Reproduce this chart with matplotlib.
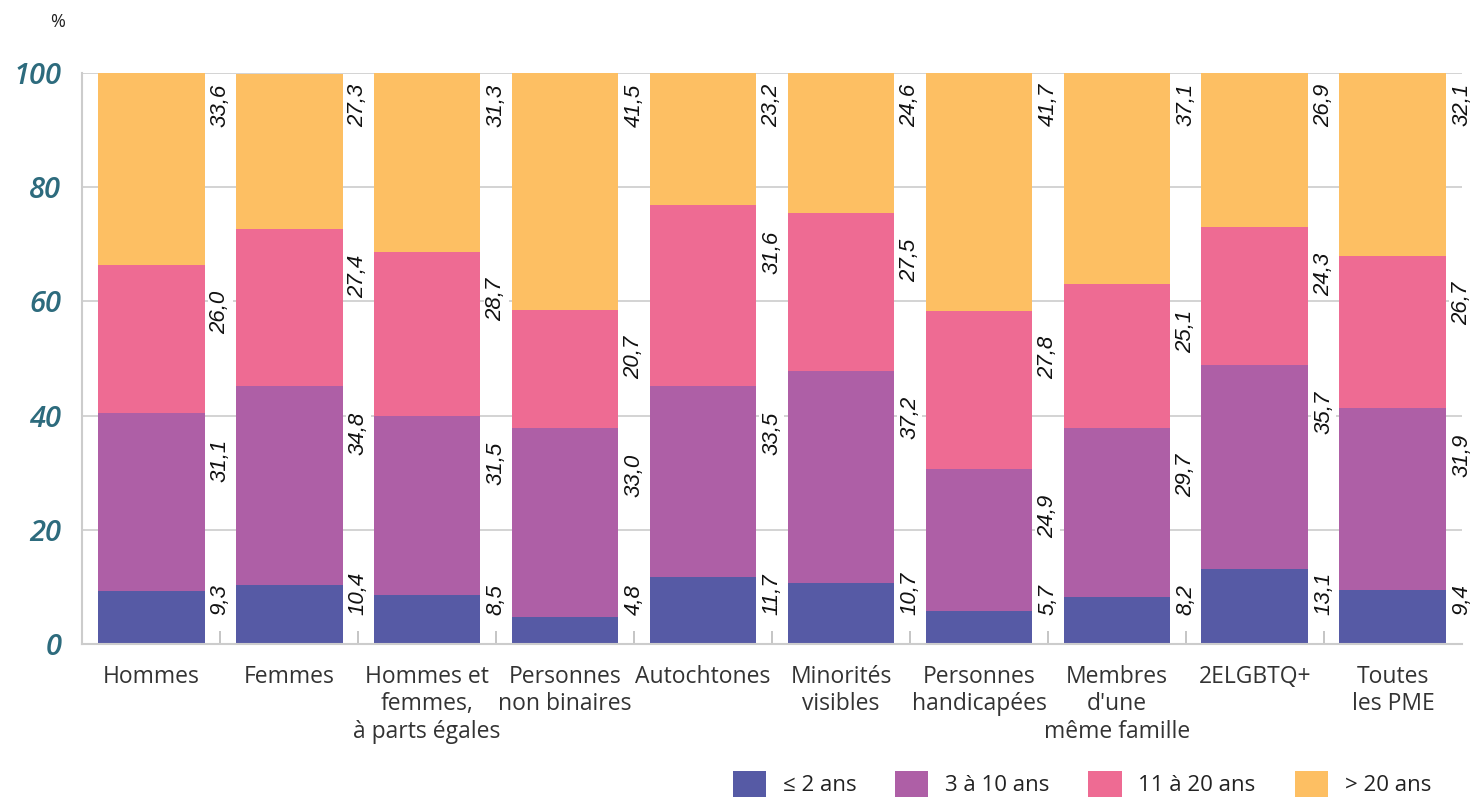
import matplotlib
matplotlib.use("Agg")
import matplotlib.pyplot as plt
import numpy as np

### DATA

categories = ["Hommes", "Femmes", "Hommes et\nfemmes,\nà parts égales",
              "Personnes\nnon binaires", "Autochtones", "Minorités\nvisibles",
              "Personnes\nhandicapées", "Membres\nd'une\nmême famille",
              "2ELGBTQ+", "Toutes\nles PME"]

series_names = ["≤ 2 ans", "3 à 10 ans", "11 à 20 ans", "> 20 ans"]

age_0_2 = [9.3, 10.4, 8.5, 4.8, 11.7, 10.7, 5.7, 8.2, 13.1, 9.4]
age_3_10 = [31.1, 34.8, 31.5, 33.0, 33.5, 37.2, 24.9, 29.7, 35.7, 31.9]
age_11_20 = [26.0, 27.4, 28.7, 20.7, 31.6, 27.5, 27.8, 25.1, 24.3, 26.7]
age_20_plus = [33.6, 27.3, 31.3, 41.5, 23.2, 24.6, 41.7, 37.1, 26.9, 32.1]

y_ticks = [0, 20, 40, 60, 80, 100]

colors = ["#565aa5", "#ae5fa6", "#ee6b93", "#fdbf63"]

### FIGURE

fig = plt.figure(figsize=(14.73, 7.99), dpi=100)
ax = fig.add_axes([0.0557, 0.194, 0.9368, 0.7146])

x = np.arange(len(categories))
series = [age_0_2, age_3_10, age_11_20, age_20_plus]
bottom = np.zeros(len(categories))

for k, (vals, col, name) in enumerate(zip(series, colors, series_names)):
    vals = np.array(vals)
    ax.bar(x, vals, width=0.775, bottom=bottom, color=col, label=name, zorder=2)
    tops = bottom + vals
    # value labels sit in the gap to the right of each bar
    for i in range(len(categories)):
        txt = f"{vals[i]:.1f}".replace(".", ",")
        if k == 0:
            ypos, va = 5.0, "bottom"
        elif k == len(series) - 1:
            ypos, va = tops[i] - 1.8, "top"
        else:
            ypos, va = tops[i] - 4.5, "top"
        ax.text(i + 0.5, ypos, txt, rotation=90, ha="center", va=va,
                fontsize=16, fontstyle="italic", family="Liberation Sans",
                color="#111111", zorder=4,
                bbox=dict(facecolor="white", edgecolor="none", pad=1.5))
    bottom = tops

ax.set_xlim(-0.5, len(categories) - 0.5)
ax.set_ylim(0, 100)

# grid
ax.set_yticks(y_ticks)
ax.yaxis.grid(True, color="#cccccc", linewidth=1.2, zorder=0)
ax.set_axisbelow(True)
ax.tick_params(axis="y", length=0, pad=15)
for lab in ax.get_yticklabels():
    lab.set_fontsize(21)
    lab.set_fontstyle("italic")
    lab.set_fontweight("semibold")
    lab.set_family("Open Sans")
    lab.set_color("#2d6b7d")

ax.set_xticks(x)
ax.set_xticklabels(categories, fontsize=16.5, family="Open Sans",
                   color="#333333", linespacing=1.2)
ax.tick_params(axis="x", which="major", length=0, pad=15)
ax.set_xticks(x[:-1] + 0.5, minor=True)
ax.tick_params(axis="x", which="minor", direction="in", length=9.5,
               color="#bbbbbb", width=1.2)

for side in ["top", "right"]:
    ax.spines[side].set_visible(False)
for side in ["left", "bottom"]:
    ax.spines[side].set_color("#cccccc")
    ax.spines[side].set_linewidth(1.5)

fig.text(0.034, 0.972, "%", fontsize=13, color="#222222", family="Open Sans",
         ha="left", va="center")

fig.legend(loc="lower right", bbox_to_anchor=(0.985, -0.022), ncol=4,
           frameon=False, prop={"family": "Open Sans", "size": 16},
           handlelength=1.5, handleheight=1.4, handletextpad=0.75,
           columnspacing=1.75, labelcolor="#222222")

fig.savefig("out.png", dpi=100)
